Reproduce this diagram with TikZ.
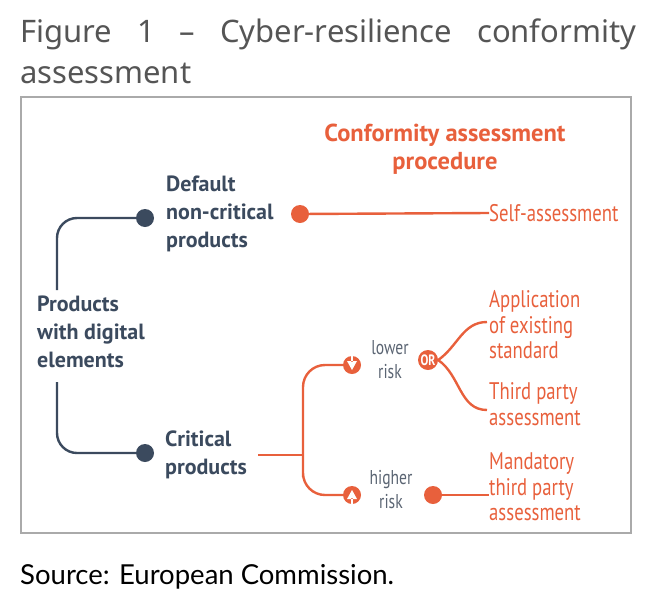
\documentclass[tikz,border=0pt]{standalone}
\usepackage{fontspec}
\setmainfont{PT Sans}
\newfontfamily\condfont[FakeStretch=0.78]{PT Sans}
\newfontfamily\titlefont{Noto Sans}
\newfontfamily\srcfont{Lato}
\definecolor{orng}{HTML}{E8603C}
\definecolor{navy}{HTML}{3B4A5E}
\definecolor{greytxt}{HTML}{5B6573}
\definecolor{titlegrey}{HTML}{555555}
\definecolor{framegrey}{HTML}{AAAAAA}
\tikzset{
  bluelab/.style={anchor=west, align=left, inner sep=0, text=navy, font=\bfseries\fontsize{22}{28}\selectfont},
  orangelab/.style={anchor=west, align=left, inner sep=0, text=orng, font=\condfont\fontsize{24}{25.5}\selectfont},
  risklab/.style={align=center, inner sep=0, text=greytxt, font=\condfont\fontsize{20}{24}\selectfont},
  bdot/.style={circle, fill=navy, minimum size=18pt, inner sep=0},
  odot/.style={circle, fill=orng, minimum size=18pt, inner sep=0},
  bline/.style={navy, line width=2.4pt},
  oline/.style={orng, line width=2.4pt}
}
\begin{document}
\begin{tikzpicture}[x=1pt, y=-1pt]
  \useasboundingbox (0,0) rectangle (652,605);
  \node[anchor=base west, inner sep=0, text=titlegrey, font=\titlefont\fontsize{31}{31}\selectfont] (ttl1) at (20,42) {\makebox[616pt][s]{Figure 1 – Cyber-resilience conformity}};
  \node[anchor=base west, inner sep=0, text=titlegrey, font=\titlefont\fontsize{31}{31}\selectfont] (ttl2) at (20,83) {assessment};
  \draw[framegrey, line width=2pt] (21,97) rectangle (631,533);

  \node[anchor=center, inner sep=0, text=orng, align=center, font=\bfseries\fontsize{24.5}{28}\selectfont] (cap) at (445,149) {Conformity assessment\\procedure};

  \node[bluelab] (pde) at (37,332) {Products\\with digital\\elements};
  \node[bluelab] (dflt) at (166,214) {Default\\non-critical\\products};
  \node[bluelab] (crit) at (165,455) {Critical\\products};
  \node[bdot] (d1) at (145,218) {};
  \node[bdot] (d2) at (145,453) {};
  \coordinate (p1) at (57,290);
  \coordinate (p2) at (57,382);
  \draw[bline, rounded corners=20] (p1) |- (d1);
  \draw[bline, rounded corners=20] (p2) |- (d2);

  \node[odot] (o1) at (300,214) {};
  \node[orangelab] (self) at (489,213) {Self-assessment};
  \draw[oline] (o1) -- (self.west);

  \coordinate (c1) at (258,455);
  \coordinate (j) at (303,455);
  \node[odot] (lo) at (352,365) {};
  \node[odot] (hi) at (352,495) {};
  \fill[white] (351.2,356) rectangle (352.8,362) (347,361) -- (357,361) -- (352,370) -- cycle;
  \fill[white] (351.2,504) rectangle (352.8,498) (347,499) -- (357,499) -- (352,490) -- cycle;
  \draw[oline] (c1) -- (j);
  \draw[oline, rounded corners=22] (lo) -| (j) |- (hi);

  \node[risklab] (lr) at (390,360) {lower\\risk};
  \node[risklab] (hr) at (391,490) {higher\\risk};

  \node[odot, minimum size=20pt, text=white, font=\condfont\bfseries\fontsize{15}{15}\selectfont] (or) at (428,360) {OR};
  \node[orangelab] (app) at (489,325) {Application\\of existing\\standard};
  \node[orangelab] (tpa) at (489,404) {Third party\\assessment};
  \node[orangelab] (mtp) at (489,487) {Mandatory\\third party\\assessment};
  \coordinate (e1) at (487,322);
  \coordinate (e2) at (487,410);
  \draw[oline] (or.east) to[out=35, in=180] (e1);
  \draw[oline] (or.east) to[out=-35, in=180] (e2);

  \node[odot] (o2) at (433,495) {};
  \draw[oline] (o2) -- (489,495);

  \node[anchor=base west, inner sep=0, font=\srcfont\fontsize{27.5}{27.5}\selectfont] (src) at (20,584) {Source: European Commission.};
\end{tikzpicture}
\end{document}
